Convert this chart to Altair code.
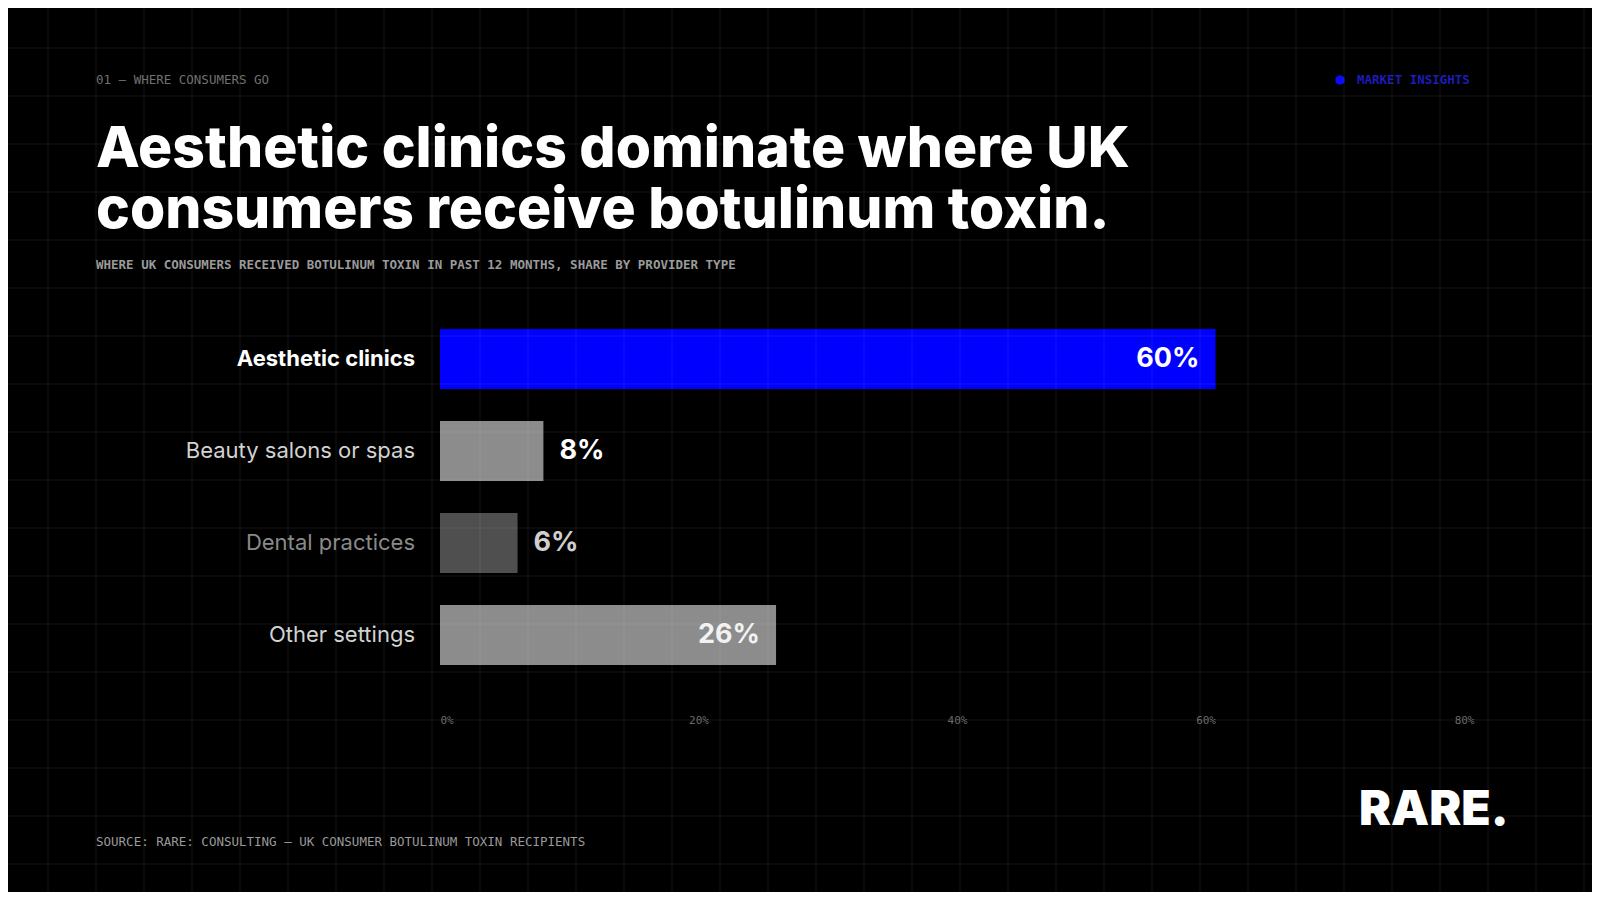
import altair as alt
import pandas as pd

# ---- data ----
categories = ["Aesthetic clinics", "Beauty salons or spas", "Dental practices", "Other settings"]
shares = [0.60, 0.08, 0.06, 0.26]
tick_values = [0, 0.2, 0.4, 0.6, 0.8]

kicker = "01 — WHERE CONSUMERS GO"
badge = "MARKET INSIGHTS"
title_line1 = "Aesthetic clinics dominate where UK"
title_line2 = "consumers receive botulinum toxin."
subtitle = "WHERE UK CONSUMERS RECEIVED BOTULINUM TOXIN IN PAST 12 MONTHS, SHARE BY PROVIDER TYPE"
source = "SOURCE: RARE: CONSULTING — UK CONSUMER BOTULINUM TOXIN RECIPIENTS"
logo = "RARE."

# ---- styles ----
bar_colors = ["#0000ff", "#8c8c8c", "#4f4f4f", "#8c8c8c"]
label_colors = ["#ffffff", "#d2d2d2", "#8a8a8a", "#d2d2d2"]
value_colors = ["#ffffff", "#ffffff", "#cfcfcf", "#f2f2f2"]
MONO = "DejaVu Sans Mono"
SANS = "Inter"

df = pd.DataFrame({"category": categories, "share": shares})
one = pd.DataFrame({"k": [0]})

PW, PH = 1034, 368
x_scale = alt.Scale(domain=[0, 0.8], nice=False, zero=True)
y_scale = alt.Scale(domain=categories, paddingInner=0.348, paddingOuter=0.174)

bars = alt.Chart(df).mark_bar().encode(
    x=alt.X("share:Q", scale=x_scale, title=None,
            axis=alt.Axis(values=tick_values, format=".0%", grid=False, domain=False, ticks=False,
                          labelFont=MONO, labelFontSize=11, labelColor="#6a6a6a",
                          labelBaseline="middle", labelPadding=39,
                          labelAlign={"condition": [
                              {"test": "datum.value == 0", "value": "left"},
                              {"test": "datum.value >= 0.5", "value": "right"}],
                              "value": "center"})),
    y=alt.Y("category:N", scale=y_scale, axis=None, sort=categories),
    color=alt.Color("category:N", scale=alt.Scale(domain=categories, range=bar_colors), legend=None),
)

cat_color = alt.Color("category:N", scale=alt.Scale(domain=categories, range=label_colors), legend=None)
cat_bold = alt.Chart(df).transform_filter(alt.datum.category == categories[0]).mark_text(
    align="right", baseline="middle", font=SANS, fontSize=22, fontWeight=700
).encode(x=alt.value(-25), y=alt.Y("category:N", scale=y_scale, axis=None), text="category:N", color=cat_color)
cat_reg = alt.Chart(df).transform_filter(alt.datum.category != categories[0]).mark_text(
    align="right", baseline="middle", font=SANS, fontSize=22, fontWeight=400
).encode(x=alt.value(-25), y=alt.Y("category:N", scale=y_scale, axis=None), text="category:N", color=cat_color)

val_color = alt.Color("category:N", scale=alt.Scale(domain=categories, range=value_colors), legend=None)
val_in = alt.Chart(df).transform_filter(alt.datum.share >= 0.2).mark_text(
    align="right", baseline="middle", dx=-16, font=SANS, fontSize=27, fontWeight=700
).encode(x=alt.X("share:Q", scale=x_scale), y=alt.Y("category:N", scale=y_scale, axis=None),
         text=alt.Text("share:Q", format=".0%"), color=val_color)
val_out = alt.Chart(df).transform_filter(alt.datum.share < 0.2).mark_text(
    align="left", baseline="middle", dx=16, font=SANS, fontSize=27, fontWeight=700
).encode(x=alt.X("share:Q", scale=x_scale), y=alt.Y("category:N", scale=y_scale, axis=None),
         text=alt.Text("share:Q", format=".0%"), color=val_color)

def deco(text, x, y, **kw):
    return alt.Chart(one).mark_text(text=text, **kw).encode(x=alt.value(x), y=alt.value(y))

kick = deco(kicker, -344, -233, align="left", baseline="middle", font=MONO, fontSize=12.5, color="#707070")
dot = alt.Chart(one).mark_circle(color="#0a0aff", size=90, opacity=1).encode(x=alt.value(900), y=alt.value(-233))
badge_t = deco(badge, 917, -233, align="left", baseline="middle", font=MONO, fontSize=12.5, fontWeight="bold", color="#1c1cb8")
title1 = deco(title_line1, -344, -146, align="left", baseline="alphabetic", font=SANS, fontSize=57,
              fontWeight=800, color="#ffffff")
title2 = deco(title_line2, -344, -85, align="left", baseline="alphabetic", font=SANS, fontSize=57,
              fontWeight=800, color="#ffffff")
sub = deco(subtitle, -344, -48, align="left", baseline="middle", font=MONO, fontSize=12.5, fontWeight="bold", color="#9a9a9a")
src = deco(source, -344, 529, align="left", baseline="middle", font=MONO, fontSize=12.5, color="#9a9a9a")
logo_t = deco(logo, 919, 512, align="left", baseline="alphabetic", font=SANS, fontSize=48, fontWeight=900, color="#ffffff")

grid_v = alt.Chart(alt.sequence(-440, 1161, 48, as_="gx")).mark_rule(
    color="#ffffff", opacity=0.08, strokeWidth=1
).encode(x=alt.X("gx:Q", scale=None), y=alt.value(-313), y2=alt.value(587))
grid_h = alt.Chart(alt.sequence(-313, 588, 48, as_="gy")).mark_rule(
    color="#ffffff", opacity=0.08, strokeWidth=1
).encode(y=alt.Y("gy:Q", scale=None), x=alt.value(-440), x2=alt.value(1160))

chart = alt.layer(
    bars, cat_bold, cat_reg, val_in, val_out, kick, dot, badge_t, title1, title2, sub, src, logo_t, grid_v, grid_h
).resolve_scale(color="independent").properties(
    width=PW, height=PH,
    padding={"left": 432, "top": 305, "right": 118, "bottom": 211},
    autosize=alt.AutoSizeParams(type="none"),
    background="#000000",
).configure_view(stroke=None)

chart.save("out.html", embed_options={"renderer": "svg", "actions": False})
